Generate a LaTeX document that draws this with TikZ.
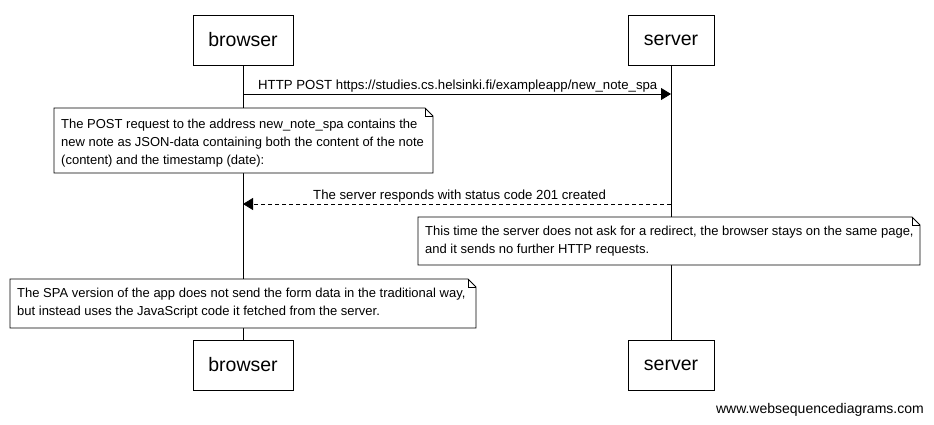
\documentclass[tikz,border=0pt]{standalone}
\usepackage{fontspec}
\setmainfont{Liberation Sans}
\usetikzlibrary{arrows.meta}
\begin{document}
\begin{tikzpicture}[x=1pt,y=-1pt,
  actor/.style={draw,line width=0.8pt,fill=white,minimum width=100pt,minimum height=50pt,inner sep=0pt,font=\fontsize{19.5}{22}\selectfont},
  life/.style={line width=0.8pt},
  msg/.style={line width=0.8pt,-{Triangle[length=10pt,width=12pt]}},
  reply/.style={msg,dash pattern=on 4pt off 3pt},
  lbl/.style={anchor=base west,inner sep=0pt,font=\fontsize{13.2}{15}\selectfont},
  notebox/.style={draw,line width=0.8pt,fill=white},
  notetext/.style={anchor=north west,inner sep=0pt,align=left,font=\fontsize{13}{18}\selectfont}
]
\useasboundingbox (0,0) rectangle (934,424);
% actors
\node[actor] (bt) at (243,40) {browser};
\node[actor,minimum width=86pt] (st) at (671,40) {server};
\node[actor] (bb) at (243,365) {browser};
\node[actor,minimum width=86pt] (sb) at (671,365) {server};
% lifelines
\draw[life] (bt.south) -- (bb.north);
\draw[life] (st.south) -- (sb.north);
% message 1
\coordinate (m1b) at (243,94);
\coordinate (m1s) at (671,94);
\draw[msg] (m1b) -- (m1s);
\node[lbl] (l1) at (258,89) {HTTP POST https://studies.cs.helsinki.fi/exampleapp/new\_note\_spa};
% note 1
\draw[notebox] (54,108) -- (425,108) -- (433,116) -- (433,173) -- (54,173) -- cycle;
\draw[line width=0.6pt] (425,108) -- (425,116) -- (433,116);
\node[notetext] (n1) at (61,119) {The POST request to the address new\_note\_spa contains the\\new note as JSON-data containing both the content of the note\\(content) and the timestamp (date):};
% message 2
\coordinate (m2s) at (671,204);
\coordinate (m2b) at (243,204);
\draw[reply] (m2s) -- (m2b);
\node[lbl] (l2) at (313,199) {The server responds with status code 201 created};
% note 2
\draw[notebox] (418,217) -- (912,217) -- (920,225) -- (920,265) -- (418,265) -- cycle;
\draw[line width=0.6pt] (912,217) -- (912,225) -- (920,225);
\node[notetext] (n2) at (425,226) {This time the server does not ask for a redirect, the browser stays on the same page,\\and it sends no further HTTP requests.};
% note 3
\draw[notebox] (10,279) -- (468,279) -- (476,287) -- (476,328) -- (10,328) -- cycle;
\draw[line width=0.6pt] (468,279) -- (468,287) -- (476,287);
\node[notetext] (n3) at (17,288) {The SPA version of the app does not send the form data in the traditional way,\\but instead uses the JavaScript code it fetched from the server.};
% watermark
\node[anchor=base east,inner sep=0pt,font=\fontsize{14}{16}\selectfont] (wm) at (924,413) {www.websequencediagrams.com};
\end{tikzpicture}
\end{document}
